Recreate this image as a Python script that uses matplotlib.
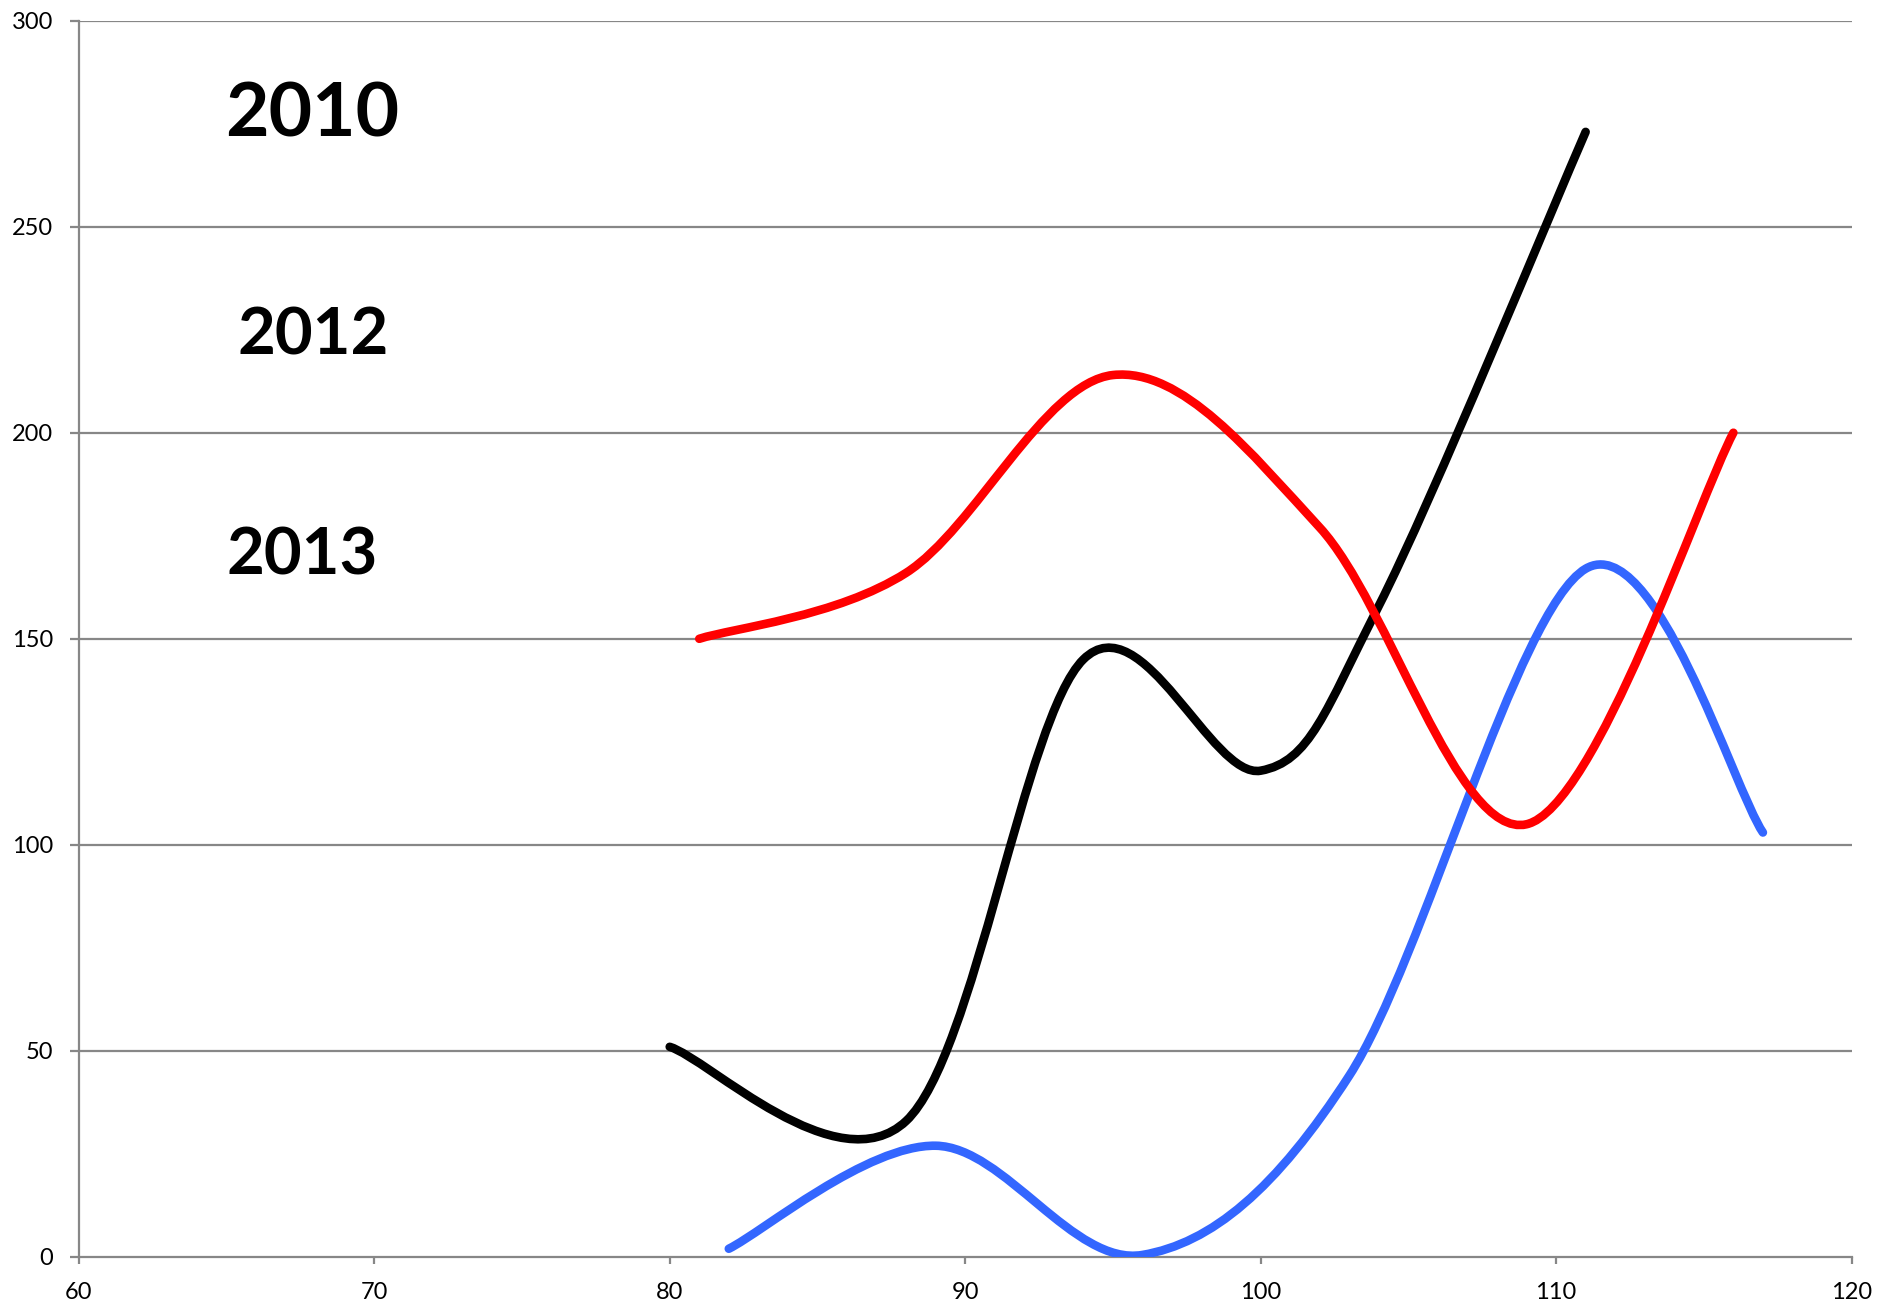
import matplotlib
matplotlib.use("Agg")
import matplotlib.pyplot as plt
from matplotlib.path import Path
from matplotlib.patches import PathPatch

# data (scatter with smoothed lines)
black_x = [80, 88, 94, 100, 104, 111]
black_y = [51, 33, 145, 118, 158, 273]

blue_x = [82, 89, 96, 103, 111, 117]
blue_y = [2, 27, 0.5, 44, 167, 103]

red_x = [81, 88, 95, 102, 109, 116]
red_y = [150, 166, 214, 177, 105, 200]

year_labels = ["2010", "2012", "2013"]
label_x = [67.9, 67.95, 67.55]
label_y = [277.2, 223.4, 170.0]
label_size = [54, 47, 47]

x_ticks = [60, 70, 80, 90, 100, 110, 120]
y_ticks = [0, 50, 100, 150, 200, 250, 300]

GRID = '#878787'


# Courbe lissée façon Excel : bezier cubique, tangente = (P[i+1] - P[i-1]) / 6
def smooth_path(xs, ys):
    pts = list(zip(xs, ys))
    n = len(pts)
    verts = [pts[0]]
    codes = [Path.MOVETO]
    for i in range(n - 1):
        p0 = pts[i - 1] if i > 0 else pts[i]
        p1 = pts[i]
        p2 = pts[i + 1]
        p3 = pts[i + 2] if i + 2 < n else pts[i + 1]
        c1 = (p1[0] + (p2[0] - p0[0]) / 6, p1[1] + (p2[1] - p0[1]) / 6)
        c2 = (p2[0] - (p3[0] - p1[0]) / 6, p2[1] - (p3[1] - p1[1]) / 6)
        verts += [c1, c2, p2]
        codes += [Path.CURVE4] * 3
    return Path(verts, codes)


def plot_series(ax, xs, ys, color, z):
    patch = PathPatch(smooth_path(xs, ys), fill=False, edgecolor=color,
                      linewidth=6.2, capstyle='round', joinstyle='round', zorder=z)
    ax.add_patch(patch)


fig = plt.figure(figsize=(19, 13.1), dpi=100)
ax = fig.add_axes([0.04147, 0.04046, 0.93303, 0.94381])

ax.set_xlim(60, 120)
ax.set_ylim(0, 300)
ax.set_xticks(x_ticks)
ax.set_yticks(y_ticks)
ax.set_xticklabels([str(v) for v in x_ticks], fontfamily='Lato', fontsize=17)
ax.set_yticklabels([str(v) for v in y_ticks], fontfamily='Lato', fontsize=17)

for v in y_ticks[1:]:
    ax.axhline(v, color=GRID, linewidth=1.6, zorder=1)

for side in ['top', 'right']:
    ax.spines[side].set_visible(False)
for side in ['left', 'bottom']:
    ax.spines[side].set_color(GRID)
    ax.spines[side].set_linewidth(1.6)

ax.tick_params(axis='y', length=6.5, width=1.6, color=GRID, pad=12)
ax.tick_params(axis='x', length=5, width=1.6, color=GRID, pad=13)

plot_series(ax, black_x, black_y, 'black', 3)
plot_series(ax, blue_x, blue_y, '#3366FF', 4)
plot_series(ax, red_x, red_y, '#FF0000', 5)

for txt, tx, ty, fs in zip(year_labels, label_x, label_y, label_size):
    ax.text(tx, ty, txt, fontfamily='Lato', fontweight='bold', fontsize=fs,
            ha='center', va='center', color='black')

fig.savefig('out.png', dpi=100)
